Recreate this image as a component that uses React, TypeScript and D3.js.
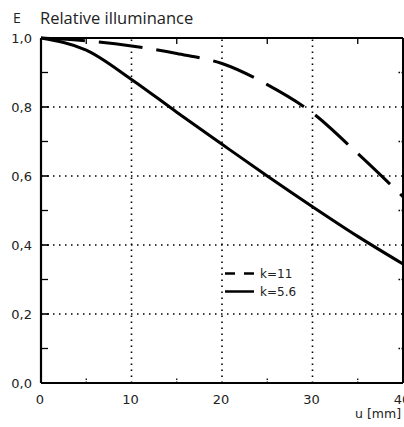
import React from "react";
import * as d3 from "d3";

const uValues = [0, 5, 10, 15, 20, 25, 30, 35, 40];
const k11Values = [1.0, 0.992, 0.977, 0.955, 0.926, 0.865, 0.783, 0.665, 0.54];
const k56Values = [1.0, 0.965, 0.88, 0.785, 0.692, 0.6, 0.511, 0.425, 0.345];
const xMajorTicks = [0, 10, 20, 30, 40];
const xMinorTicks = [5, 15, 25, 35];
const yMajorTicks = [0, 0.2, 0.4, 0.6, 0.8, 1.0];
const yMinorTicks = [0.1, 0.3, 0.5, 0.7, 0.9];
const legendItems = [
  { label: "k=11", dash: "10 9" },
  { label: "k=5.6", dash: "none" },
];

const W = 404;
const H = 427;
const left = 41;
const right = 403;
const top = 38;
const bottom = 383;

export default function App() {
  const x = d3.scaleLinear().domain([0, 40]).range([left, right]);
  const y = d3.scaleLinear().domain([0, 1]).range([bottom, top]);
  const line = d3
    .line<number>()
    .x((_, i) => x(uValues[i]))
    .y((d) => y(d))
    .curve(d3.curveMonotoneX);
  const fmt = (v: number) => v.toFixed(1).replace(".", ",");
  const textColor = "#222";
  const sans = "'Open Sans', 'DejaVu Sans', sans-serif";
  const labelFont = "'DejaVu Sans', sans-serif";

  return (
    <svg
      width={W}
      height={H}
      style={{ position: "absolute", left: 0, top: 0, background: "#fff" }}
    >
      {/* title */}
      <text x={13} y={23} fontFamily={sans} fontSize={14} fill={textColor}>
        E
      </text>
      <text x={40} y={24} fontFamily={sans} fontSize={16.5} fill={textColor}>
        Relative illuminance
      </text>

      {/* dotted grid */}
      {xMajorTicks
        .filter((t) => t > 0 && t < 40)
        .map((t) => (
          <line
            key={"gx" + t}
            x1={x(t)}
            x2={x(t)}
            y1={bottom}
            y2={top}
            stroke="#000"
            strokeWidth={1.6}
            strokeDasharray="1.5 4.5"
          />
        ))}
      {yMajorTicks
        .filter((t) => t > 0 && t < 1)
        .map((t) => (
          <line
            key={"gy" + t}
            x1={left}
            x2={right}
            y1={y(t)}
            y2={y(t)}
            stroke="#000"
            strokeWidth={1.6}
            strokeDasharray="1.5 4.5"
          />
        ))}

      {/* minor ticks */}
      {xMinorTicks.map((t) => (
        <g key={"mx" + t}>
          <line x1={x(t)} x2={x(t)} y1={bottom} y2={bottom - 6} stroke="#000" strokeWidth={1.3} strokeDasharray="1.5 1.5" />
          <line x1={x(t)} x2={x(t)} y1={top} y2={top + 6} stroke="#000" strokeWidth={1.3} />
        </g>
      ))}
      {yMinorTicks.map((t) => (
        <g key={"my" + t}>
          <line x1={left} x2={left + 7} y1={y(t)} y2={y(t)} stroke="#000" strokeWidth={1.3} />
          <line x1={right} x2={right - 6} y1={y(t)} y2={y(t)} stroke="#000" strokeWidth={1.3} strokeDasharray="1.5 1.5" />
        </g>
      ))}
      {yMajorTicks
        .filter((t) => t > 0 && t < 1)
        .map((t) => (
          <line key={"My" + t} x1={left} x2={left + 8} y1={y(t)} y2={y(t)} stroke="#000" strokeWidth={1.6} />
        ))}

      {/* frame */}
      <line x1={left} x2={right} y1={top} y2={top} stroke="#000" strokeWidth={1.8} />
      <line x1={left} x2={right} y1={bottom} y2={bottom} stroke="#000" strokeWidth={2.2} />
      <line x1={left} x2={left} y1={top} y2={bottom} stroke="#000" strokeWidth={2.2} />
      <line x1={right} x2={right} y1={top} y2={bottom} stroke="#000" strokeWidth={2} />

      {/* curves */}
      <path d={line(k56Values) || ""} fill="none" stroke="#000" strokeWidth={3} />
      <path
        d={line(k11Values) || ""}
        fill="none"
        stroke="#000"
        strokeWidth={3}
        strokeDasharray="44 14"
      />

      {/* y tick labels */}
      {yMajorTicks.map((t) => (
        <text
          key={"yl" + t}
          x={32}
          y={y(t) + 5}
          textAnchor="end"
          fontFamily={labelFont}
          fontSize={13}
          fill={textColor}
        >
          {fmt(t)}
        </text>
      ))}
      {/* x tick labels */}
      {xMajorTicks.map((t) => (
        <text
          key={"xl" + t}
          x={x(t) - 1}
          y={404}
          textAnchor="middle"
          fontFamily={labelFont}
          fontSize={13}
          fill={textColor}
        >
          {t}
        </text>
      ))}
      <text x={355} y={418} fontFamily={labelFont} fontSize={12.5} fill={textColor}>
        u [mm]
      </text>

      {/* legend */}
      {legendItems.map((it, i) => (
        <g key={it.label} transform={`translate(225, ${273.5 + i * 18})`}>
          <line x1={0} x2={29} y1={0} y2={0} stroke="#000" strokeWidth={2.5} strokeDasharray={it.dash} />
          <text x={35} y={4.5} fontFamily={labelFont} fontSize={12} fill={textColor}>
            {it.label}
          </text>
        </g>
      ))}
    </svg>
  );
}
